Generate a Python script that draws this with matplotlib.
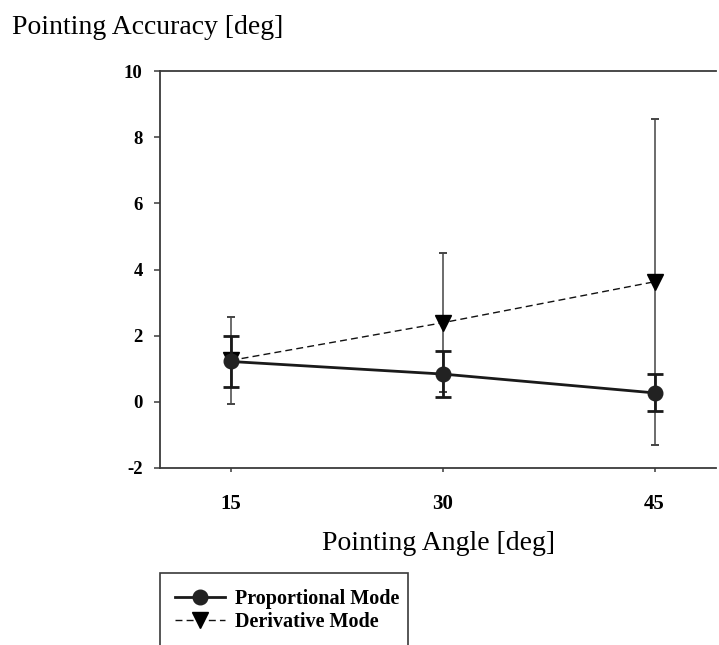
import numpy as np
import matplotlib
matplotlib.use("Agg")
import matplotlib.pyplot as plt
from matplotlib.patches import Rectangle

plt.rcParams['font.family'] = ['Liberation Serif', 'DejaVu Serif']
plt.rcParams['axes.unicode_minus'] = False

# data
angles = [15, 30, 45]
prop_mean = [1.22, 0.84, 0.27]
prop_err = [0.76, 0.69, 0.56]
deriv_mean = [1.25, 2.39, 3.63]
deriv_err = [1.31, 2.10, 4.92]

fig = plt.figure(figsize=(7.19, 6.45), dpi=100)
ax = fig.add_axes([160/719, 1-468/645, 556/719, 397/645])

# derivative mode first so the solid one sits on top
d = ax.errorbar(angles, deriv_mean, yerr=deriv_err, color='#111111', ecolor='#444444',
                elinewidth=1.1, capsize=2.6, capthick=1.4, lw=1.0, ls=(0, (5, 3)),
                marker='v', ms=11, mfc='black', mec='black', zorder=3)
p = ax.errorbar(angles, prop_mean, yerr=prop_err, color='#1a1a1a', ecolor='#1a1a1a',
                elinewidth=2.0, capsize=5.8, capthick=2.0, lw=2.0,
                marker='o', ms=10.5, mfc='#222222', mec='#222222', zorder=4)

ax.set_xlim(10, 49.35)
ax.set_ylim(-2, 10)
ax.set_xticks(angles)
ax.set_yticks([-2, 0, 2, 4, 6, 8, 10])
ax.spines['right'].set_visible(False)
for s in ['left', 'bottom', 'top']:
    ax.spines[s].set_color('#3a3a3a')
    ax.spines[s].set_linewidth(1.3)
ax.tick_params(axis='y', direction='out', length=4.5, width=1.1, color='#3a3a3a', pad=8,
               labelsize=13.5)
ax.tick_params(axis='x', direction='out', length=3, width=1.1, color='#3a3a3a', pad=16,
               labelsize=15)
for lab in ax.get_xticklabels() + ax.get_yticklabels():
    lab.set_fontweight('bold')

ax.set_xlabel('Pointing Angle [deg]', fontsize=20, labelpad=12)
fig.text(12/719, 1-27/645, 'Pointing Accuracy [deg]', fontsize=20, ha='left', va='center')

# legend, box runs off the bottom of the figure like the original
fig.legend([p[0], d[0]], ['Proportional Mode', 'Derivative Mode'], loc='upper left',
           bbox_to_anchor=(167/719, 1-581/645), frameon=False,
           prop={'weight': 'bold', 'size': 14.5}, handlelength=2.5,
           handletextpad=0.5, labelspacing=0.15, borderaxespad=0)
fig.patches.append(Rectangle((160/719, -0.05), 248/719, 1-573/645+0.05, transform=fig.transFigure,
                             fill=False, edgecolor='#3a3a3a', lw=1.2))

fig.savefig('out.png', dpi=100)
